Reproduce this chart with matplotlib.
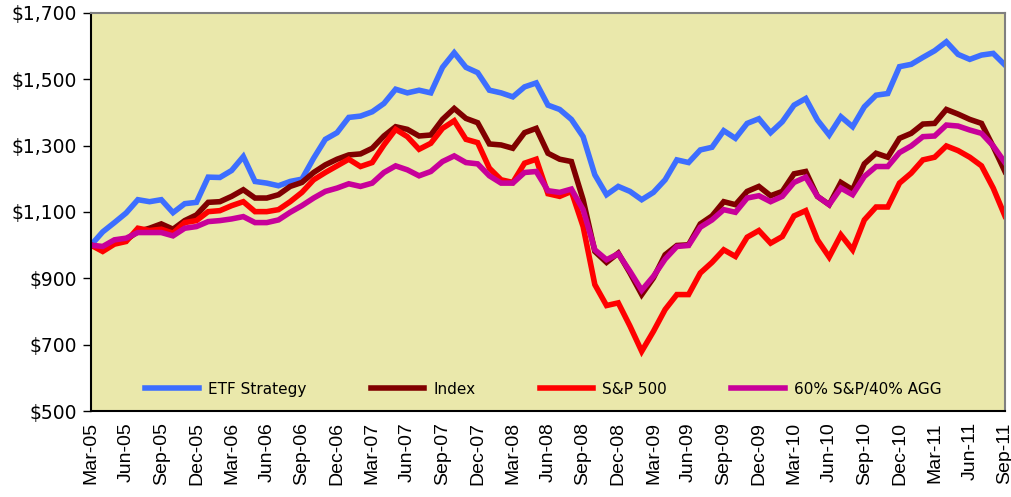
import numpy as np
import pandas as pd
import matplotlib
matplotlib.use("Agg")
import matplotlib.pyplot as plt
from matplotlib.ticker import FuncFormatter

# monthly growth of $1,000, Mar-05 .. Sep-11
months = pd.date_range("2005-03-01", "2011-09-01", freq="MS")

etf_strategy = [1000, 1040, 1068, 1097, 1137, 1131, 1137, 1098, 1125, 1129,
                1205, 1204, 1225, 1267, 1192, 1187, 1179, 1192, 1199, 1262,
                1319, 1339, 1385, 1389, 1402, 1427, 1470, 1459, 1467, 1459,
                1536, 1580, 1536, 1520, 1467, 1459, 1447, 1477, 1489, 1422,
                1409, 1379, 1327, 1212, 1152, 1177, 1162, 1137, 1159, 1197,
                1257, 1249, 1287, 1295, 1345, 1322, 1367, 1381, 1339, 1372,
                1422, 1442, 1377, 1332, 1387, 1357, 1417, 1452, 1457, 1538,
                1545, 1566, 1586, 1613, 1575, 1560, 1573, 1578, 1543]

index_vals = [1000, 990, 1006, 1016, 1041, 1051, 1064, 1048, 1074, 1091,
              1129, 1131, 1147, 1167, 1142, 1142, 1152, 1177, 1189, 1219,
              1242, 1259, 1272, 1275, 1292, 1329, 1357, 1349, 1329, 1332,
              1379, 1412, 1382, 1369, 1305, 1302, 1292, 1339, 1352, 1277,
              1259, 1252, 1137, 981, 948, 976, 916, 851, 901, 971,
              999, 1001, 1064, 1088, 1131, 1122, 1162, 1177, 1149, 1162,
              1215, 1222, 1147, 1122, 1189, 1167, 1245, 1277, 1265, 1322,
              1337, 1365, 1367, 1409, 1395, 1379, 1367, 1297, 1222]

sp500 = [1000, 981, 1003, 1011, 1051, 1044, 1048, 1036, 1068, 1074,
         1101, 1104, 1119, 1131, 1101, 1101, 1107, 1131, 1159, 1197,
         1219, 1239, 1259, 1237, 1249, 1302, 1349, 1327, 1289, 1307,
         1352, 1375, 1319, 1309, 1232, 1197, 1189, 1247, 1259, 1155,
         1147, 1162, 1056, 881, 818, 826, 756, 680, 740, 806,
         851, 851, 916, 948, 986, 966, 1024, 1044, 1006, 1026,
         1088, 1104, 1016, 964, 1031, 986, 1076, 1115, 1115, 1187,
         1217, 1257, 1265, 1299, 1285, 1265, 1239, 1172, 1088]

sp60_agg40 = [1000, 996, 1016, 1021, 1038, 1038, 1038, 1028, 1051, 1056,
              1071, 1074, 1079, 1086, 1068, 1068, 1076, 1099, 1119, 1142,
              1162, 1172, 1185, 1177, 1187, 1219, 1239, 1227, 1209, 1222,
              1252, 1269, 1249, 1245, 1209, 1187, 1187, 1219, 1222, 1164,
              1159, 1169, 1107, 986, 956, 974, 921, 864, 906, 958,
              996, 999, 1054, 1076, 1107, 1099, 1142, 1149, 1131, 1147,
              1189, 1205, 1147, 1122, 1172, 1152, 1207, 1237, 1237, 1279,
              1299, 1327, 1329, 1362, 1359, 1347, 1337, 1299, 1249]

series_names = ["ETF Strategy", "Index", "S&P 500", "60% S&P/40% AGG"]
colors = ["#3D6EFF", "#800000", "#FF0000", "#C8009A"]

fig = plt.figure(figsize=(10.11, 4.97), dpi=100)
ax = fig.add_axes([0.090, 0.173, 0.904, 0.801])
ax.set_facecolor("#EAE8AB")

x = np.arange(len(months))
for vals, name, c in zip([etf_strategy, index_vals, sp500, sp60_agg40], series_names, colors):
    ax.plot(x, vals, color=c, lw=4, label=name, solid_joinstyle="miter")

ax.set_xlim(0, len(months) - 1)
ax.set_ylim(500, 1700)
ax.set_yticks(range(500, 1701, 200))
ax.yaxis.set_major_formatter(FuncFormatter(lambda v, p: f"${v:,.0f}"))
ax.tick_params(axis="y", length=6, width=1, labelsize=13.5, pad=4)
for t in ax.get_yticklabels():
    t.set_family("DejaVu Sans")

ax.set_xticks(x[::3])
ax.set_xticklabels([m.strftime("%b-%y") for m in months[::3]], rotation=90,
                   fontsize=14, family="Liberation Sans")
ax.tick_params(axis="x", length=0, pad=8)

for side in ["left", "bottom"]:
    ax.spines[side].set_color("black")
    ax.spines[side].set_linewidth(1.5)
for side in ["top", "right"]:
    ax.spines[side].set_color("#808080")
    ax.spines[side].set_linewidth(1.5)

ax.legend(loc="center", bbox_to_anchor=(0.495, 0.055), ncol=4, frameon=False,
          prop={"family": "DejaVu Sans", "size": 11}, handlelength=3.5,
          handletextpad=0.6, columnspacing=4.2)

fig.savefig("out.png", dpi=100)
